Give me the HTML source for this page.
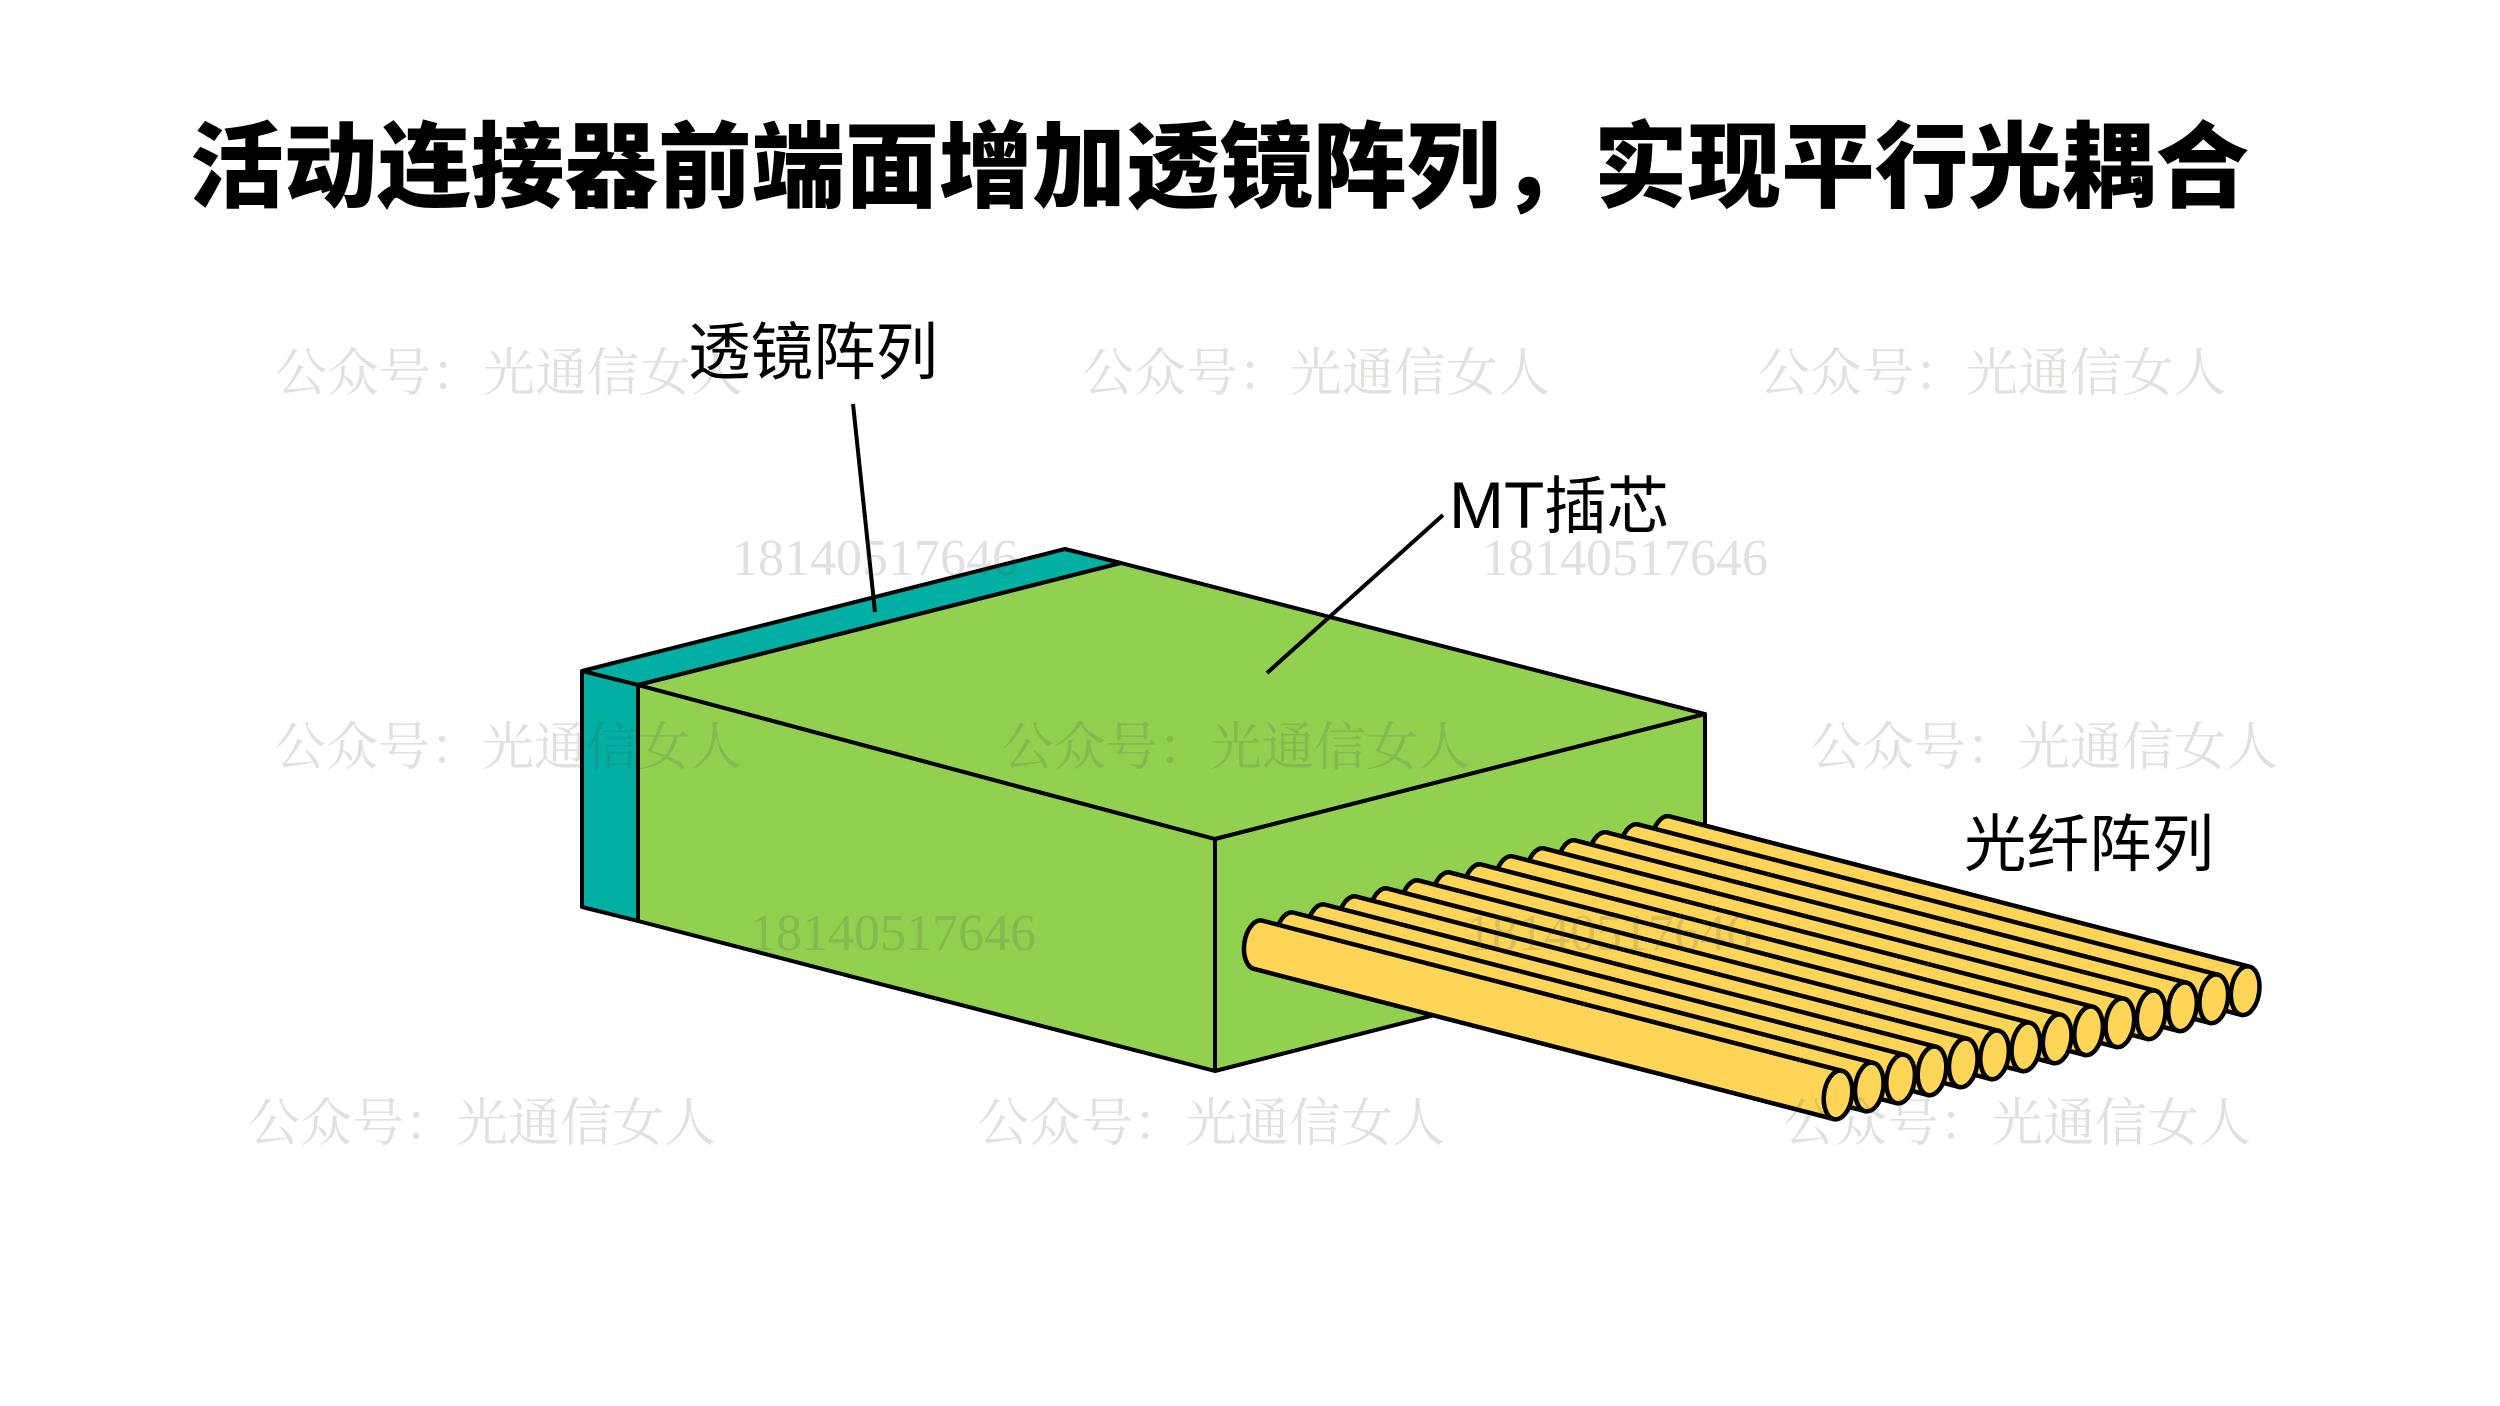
<!DOCTYPE html>
<html lang="zh">
<head>
<meta charset="utf-8">
<style>
html,body{margin:0;padding:0;background:#fff;width:2500px;height:1406px;overflow:hidden}
svg{display:block}
.t{font-family:"Liberation Sans","Noto Sans CJK SC",sans-serif;font-size:62.5px;fill:#000}
.m{font-size:66px}
.title{font-family:"Liberation Sans","Noto Sans CJK SC",sans-serif;font-size:93.6px;font-weight:900;fill:#000}
.w{font-family:"Liberation Serif","Noto Serif CJK SC",serif;font-size:52px;fill:rgba(70,90,70,.18)}
.n{font-family:"Liberation Serif",serif;font-size:52px;fill:rgba(70,90,70,.18)}
</style>
</head>
<body>
<svg width="2500" height="1406" viewBox="0 0 2500 1406" xmlns="http://www.w3.org/2000/svg">
<rect width="2500" height="1406" fill="#fff"/>
<text class="title" x="190" y="200">活动连接器前端面增加透镜阵列，实现平行光耦合</text>

<g stroke="#000" stroke-width="4" stroke-linejoin="round">
  <polygon points="582,671 1065,549 1121,563 638,685" fill="#02AFA3"/>
  <polygon points="582,671 638,685 638,921 582,907" fill="#02AFA3"/>
  <polygon points="638,685 1215,839 1215,1071 638,921" fill="#92D050"/>
  <polygon points="1121,563 1705,714 1215,839 638,685" fill="#92D050"/>
  <polygon points="1215,839 1705,714 1705,946 1215,1071" fill="#92D050"/>
</g>

<defs>
  <g id="f" stroke="#000" stroke-width="4.5" stroke-linejoin="round" fill="#FFD557">
    <path d="M1261.7,920.5 A14,24.5,8,0,0,1254.9,969.1 L1834.6,1119.3 L1841.4,1070.7 Z"/>
    <ellipse cx="1838" cy="1095" rx="14" ry="24.5" transform="rotate(8 1838 1095)"/>
  </g>
</defs>
<use href="#f" transform="translate(407.2,-104.3)"/>
<use href="#f" transform="translate(375.8,-96.2)"/>
<use href="#f" transform="translate(344.5,-88.2)"/>
<use href="#f" transform="translate(313.2,-80.2)"/>
<use href="#f" transform="translate(281.9,-72.2)"/>
<use href="#f" transform="translate(250.6,-64.2)"/>
<use href="#f" transform="translate(219.2,-56.1)"/>
<use href="#f" transform="translate(187.9,-48.1)"/>
<use href="#f" transform="translate(156.6,-40.1)"/>
<use href="#f" transform="translate(125.3,-32.1)"/>
<use href="#f" transform="translate(94,-24.1)"/>
<use href="#f" transform="translate(62.6,-16)"/>
<use href="#f" transform="translate(31.3,-8)"/>
<use href="#f"/>

<g stroke="#000" stroke-width="4">
  <line x1="853" y1="404" x2="875" y2="612"/>
  <line x1="1443" y1="515" x2="1267" y2="673"/>
</g>

<text class="w" x="275" y="391">公众号：光通信女人</text>
<text class="w" x="1082" y="391">公众号：光通信女人</text>
<text class="w" x="1758" y="391">公众号：光通信女人</text>
<text class="w" x="274" y="765">公众号：光通信女人</text>
<text class="w" x="1002" y="765">公众号：光通信女人</text>
<text class="w" x="1810" y="765">公众号：光通信女人</text>
<text class="w" x="248" y="1141">公众号：光通信女人</text>
<text class="w" x="977" y="1141">公众号：光通信女人</text>
<text class="w" x="1783" y="1141">公众号：光通信女人</text>
<text class="n" x="732" y="575">18140517646</text>
<text class="n" x="1482" y="575">18140517646</text>
<text class="n" x="750" y="950">18140517646</text>
<text class="n" x="1466" y="950">18140517646</text>

<text class="t" x="688" y="374">透镜阵列</text>
<text class="t" x="1449" y="528"><tspan class="m">MT</tspan>插芯</text>
<text class="t" x="1964" y="866">光纤阵列</text>
</svg>
</body>
</html>
